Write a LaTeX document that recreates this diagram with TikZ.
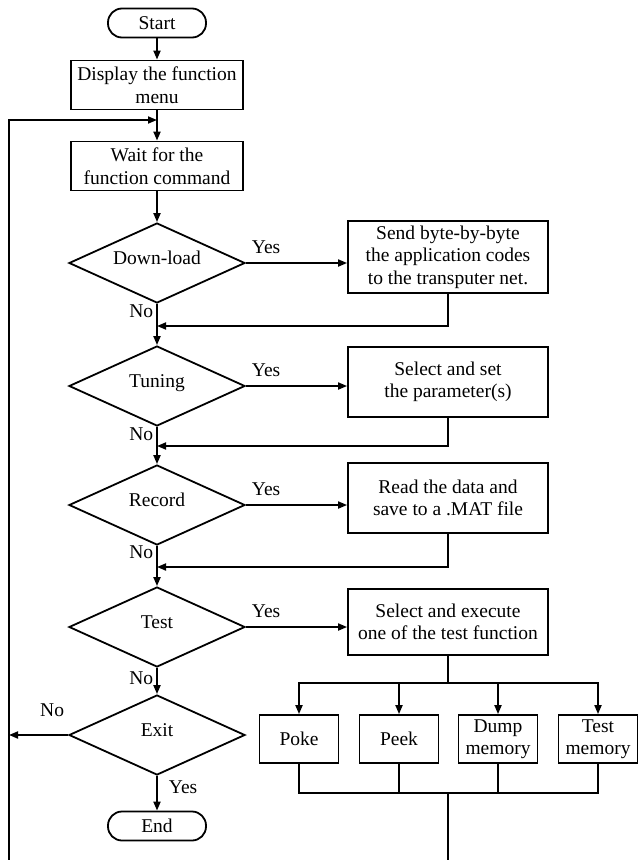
\documentclass[tikz,border=0pt]{standalone}
\usepackage{fontspec}
\setmainfont{Liberation Serif}
\usetikzlibrary{shapes.geometric,arrows.meta}

\begin{document}
\begin{tikzpicture}[x=1pt, y=-1pt, line width=1.8pt, >={Triangle[length=9pt,width=7pt]}, font=\fontsize{19.5}{22.5}\selectfont] %function menu
   \tikzstyle{process} = [rectangle, draw, align=center, inner sep=2pt, minimum width=172pt, minimum height=49pt]
   \tikzstyle{action} = [rectangle, draw, align=center, inner sep=2pt, minimum width=200pt, minimum height=70pt]
   \tikzstyle{decision} = [diamond, draw, shape aspect=2.2, inner sep=0pt, minimum width=176pt, minimum height=80pt, text height=14pt, text depth=12pt]
   \tikzstyle{terminal} = [rectangle, draw, rounded corners=14pt, minimum width=98pt, minimum height=29pt, inner sep=0pt]
   \tikzstyle{testbox} = [rectangle, draw, align=center, inner sep=1pt, minimum width=79pt, minimum height=48pt]
   \tikzstyle{lbl} = [inner sep=3pt]
   \useasboundingbox (0,0) rectangle (639,860);

   % main column
   \node[terminal] (start) at (157,23) {Start};
   \node[process] (disp) at (157,85) {Display the function\\menu};
   \node[process] (wait) at (157,166) {Wait for the\\function command};
   \node[decision] (dl) at (157,263) {Down-load};
   \node[decision] (tune) at (157,386) {Tuning};
   \node[decision] (rec) at (157,505) {Record};
   \node[decision] (test) at (157,627) {Test};
   \node[decision] (exit) at (157,735) {Exit};
   \node[terminal] (end) at (157,826) {End};

   % actions
   \node[action, minimum height=72pt] (send) at (448,257) {Send byte-by-byte\\the application codes\\to the transputer net.};
   \node[action] (setp) at (448,382) {Select and set\\the parameter(s)};
   \node[action] (save) at (448,498) {Read the data and\\save to a .MAT file};
   \node[action, minimum height=66pt] (tsel) at (448,622) {Select and execute\\one of the test function};

   \coordinate (jtop) at (157,120);
   \coordinate (j1) at (157,326);
   \coordinate (j2) at (157,446);
   \coordinate (j3) at (157,567);
   \coordinate (jexit) at (9,735);
   \coordinate (lbot) at (9,860);
   \coordinate (jt) at (448,683);
   \coordinate (jb) at (448,793);
   \coordinate (bot) at (448,860);

   \draw[->] (start) -- (disp);
   \draw[->] (disp) -- (wait);
   \draw[->] (lbot) |- (jtop);
   \draw[->] (wait) -- (dl);
   \draw[->] (dl) -- node[lbl, pos=0.18, left]{No} (tune);
   \draw[->] (tune) -- node[lbl, pos=0.2, left]{No} (rec);
   \draw[->] (rec) -- node[lbl, pos=0.15, left]{No} (test);
   \draw[->] (test) -- node[lbl, pos=0.4, left]{No} (exit);
   \draw[->] (exit) -- node[lbl, pos=0.33, right=8pt]{Yes} (end);
   \draw[->] (exit) -- node[lbl, pos=0.27, above=14pt]{No} (jexit);

   \draw[->] (dl.east) -- node[lbl, pos=0.2, above=5pt]{Yes} (dl.east -| send.west);
   \draw[->] (tune.east) -- node[lbl, pos=0.2, above=5pt]{Yes} (tune.east -| setp.west);
   \draw[->] (rec.east) -- node[lbl, pos=0.2, above=5pt]{Yes} (rec.east -| save.west);
   \draw[->] (test.east) -- node[lbl, pos=0.2, above=5pt]{Yes} (test.east -| tsel.west);

   \draw[->] (send) |- (j1);
   \draw[->] (setp) |- (j2);
   \draw[->] (save) |- (j3);

   % test functions
   \draw (tsel) -- (jt);
   \foreach \name/\x/\txt in {poke/299/Poke, peek/399/Peek, dump/498/{Dump\\memory}, tmem/598/{Test\\memory}}
   {
      \node[testbox] (\name) at (\x,739) {\txt};
      \draw[->] (jt) -| (\name);
      \draw (\name) |- (jb);
   }
   \draw (jb) -- (bot);
\end{tikzpicture}
\end{document}
